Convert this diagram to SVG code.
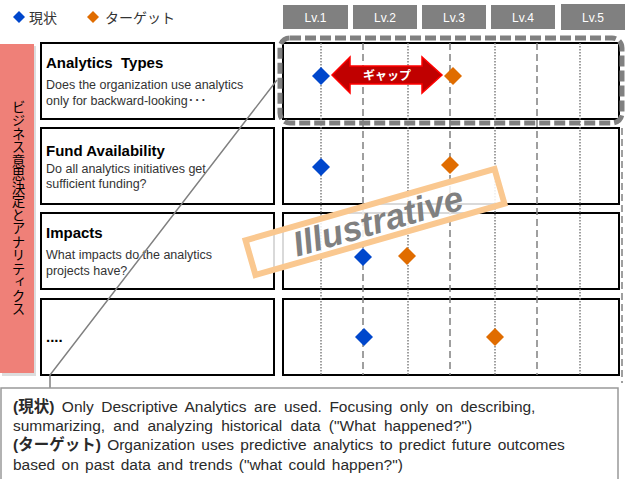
<svg xmlns="http://www.w3.org/2000/svg" width="629" height="479" viewBox="0 0 629 479">
<defs>
<style>
.t{font-family:"Liberation Sans","Noto Sans CJK JP",Arial,sans-serif}
.box{fill:#fff;stroke:#000;stroke-width:2}
.lv{fill:#808080}
.lvt{font-size:12px;fill:#fff;text-anchor:middle}
.ttl{font-size:15px;font-weight:bold;fill:#000}
.dsc{font-size:12.5px;fill:#333}
.dot{stroke:#808080;stroke-width:1.5;stroke-dasharray:1.5 1.5}
.dash{stroke:#808080;stroke-width:1.5;stroke-dasharray:7 4}
.blue{fill:#0047CC}
.orange{fill:#E06C00}
.co{font-size:15.5px;fill:#2a2a2a}
</style>
<polygon id="dm" points="0,-9 9,0 0,9 -9,0"/>
<polygon id="dms" points="0,-6 6,0 0,6 -6,0"/>
</defs>
<rect width="629" height="479" fill="#fff"/>

<g id="legend">
<use href="#dms" x="19" y="17" class="blue"/>
<text class="t" x="29" y="23" font-size="14" fill="#333">現状</text>
<use href="#dms" x="93" y="17" class="orange"/>
<text class="t" x="105" y="23" font-size="14" fill="#333">ターゲット</text>
</g>

<g id="levels">
<rect class="lv" x="283" y="5" width="65" height="24"/><text class="t lvt" x="315.5" y="21.5">Lv.1</text>
<rect class="lv" x="353" y="5" width="64" height="24"/><text class="t lvt" x="385" y="21.5">Lv.2</text>
<rect class="lv" x="422" y="5" width="64" height="24"/><text class="t lvt" x="454" y="21.5">Lv.3</text>
<rect class="lv" x="491" y="5" width="64" height="24"/><text class="t lvt" x="523" y="21.5">Lv.4</text>
<rect class="lv" x="561" y="4" width="64" height="26"/><text class="t lvt" x="593" y="21.5">Lv.5</text>
</g>

<g id="side-bar">
<rect x="2" y="46" width="34" height="330" fill="#bbb" opacity="0.5"/>
<rect x="0" y="44" width="34" height="329" fill="#EF8078"/>
<text class="t" x="17" y="208" font-size="13.5" fill="#000" style="writing-mode:vertical-rl" text-anchor="middle">ビジネス意思決定とアナリティクス</text>
</g>

<g id="row1-left">
<rect class="box" x="41" y="43" width="233" height="76"/>
<text class="t ttl" x="46" y="68">Analytics&#160; Types</text>
<text class="t dsc" x="46" y="89">Does the organization use analytics</text>
<text class="t dsc" x="46" y="105">only for backward-looking･･･</text>
</g>
<g id="row2-left">
<rect class="box" x="41" y="128" width="233" height="76"/>
<text class="t ttl" x="46" y="156">Fund Availability</text>
<text class="t dsc" x="46" y="173">Do all analytics initiatives get</text>
<text class="t dsc" x="46" y="188">sufficient funding?</text>
</g>
<g id="row3-left">
<rect class="box" x="41" y="213" width="233" height="76"/>
<text class="t ttl" x="46" y="238">Impacts</text>
<text class="t dsc" x="46" y="259">What impacts do the analytics</text>
<text class="t dsc" x="46" y="275">projects have?</text>
</g>
<g id="row4-left">
<rect class="box" x="41" y="299" width="233" height="76"/>
<text class="t ttl" x="46" y="342">....</text>
</g>

<g id="row1-right"><rect class="box" x="283" y="43" width="336" height="76"/></g>
<g id="row2-right"><rect class="box" x="283" y="128" width="336" height="76"/></g>
<g id="row3-right"><rect class="box" x="283" y="213" width="336" height="76"/></g>
<g id="row4-right"><rect class="box" x="283" y="299" width="336" height="76"/></g>

<g id="grid">
<line class="dot" x1="321" y1="43" x2="321" y2="375"/>
<line class="dot" x1="408" y1="43" x2="408" y2="375"/>
<line class="dot" x1="495" y1="43" x2="495" y2="375"/>
<line class="dot" x1="580" y1="43" x2="580" y2="375"/>
<line class="dash" x1="363" y1="43" x2="363" y2="375"/>
<line class="dash" x1="450" y1="43" x2="450" y2="375"/>
<line class="dash" x1="537" y1="43" x2="537" y2="375"/>
<line class="dash" x1="622" y1="128" x2="622" y2="383"/>
</g>

<g id="highlight">
<rect x="280" y="38" width="342" height="85" rx="10" fill="none" stroke="#808080" stroke-width="5" stroke-dasharray="11 4"/>
</g>

<g id="markers">
<use href="#dm" x="321" y="76" class="blue"/>
<use href="#dm" x="453" y="76" class="orange"/>
<use href="#dm" x="321" y="167" class="blue"/>
<use href="#dm" x="450" y="165" class="orange"/>
<use href="#dm" x="363" y="257" class="blue"/>
<use href="#dm" x="407" y="256" class="orange"/>
<use href="#dm" x="364" y="337" class="blue"/>
<use href="#dm" x="495" y="337" class="orange"/>
</g>

<g id="gap">
<path d="M332,75 L350,57 L350,66 L422,66 L422,57 L442,75 L422,93 L422,84 L350,84 L350,93 Z" fill="#C00000" stroke="#FF0000" stroke-width="1.5"/>
<text class="t" x="387" y="80" font-size="12" font-weight="bold" fill="#fff" text-anchor="middle">ギャップ</text>
</g>

<g id="connectors">
<polyline points="277,80 50,375 50,388" fill="none" stroke="#808080" stroke-width="1.5"/>
</g>

<g id="stamp" transform="translate(375,222) rotate(-16)">
<rect x="-129.5" y="-18" width="259" height="36" fill="#fff" fill-opacity="0.85" stroke="#FAC890" stroke-width="6"/>
<text class="t" x="3" y="12" font-size="35" font-weight="bold" font-style="italic" fill="#808080" text-anchor="middle">Illustrative</text>
</g>

<g id="callout">
<rect x="1" y="388" width="617" height="95" fill="#fff" stroke="#999" stroke-width="1.5"/>
<text class="t co" x="13" y="412" word-spacing="3.2"><tspan font-weight="bold">(現状)</tspan> Only Descriptive Analytics are used. Focusing only on describing,</text>
<text class="t co" x="13" y="431" word-spacing="3.9">summarizing, and analyzing historical data ("What happened?")</text>
<text class="t co" x="13" y="450" word-spacing="2"><tspan font-weight="bold">(ターゲット)</tspan> Organization uses predictive analytics to predict future outcomes</text>
<text class="t co" x="13" y="470" word-spacing="2">based on past data and trends ("what could happen?")</text>
</g>
</svg>
